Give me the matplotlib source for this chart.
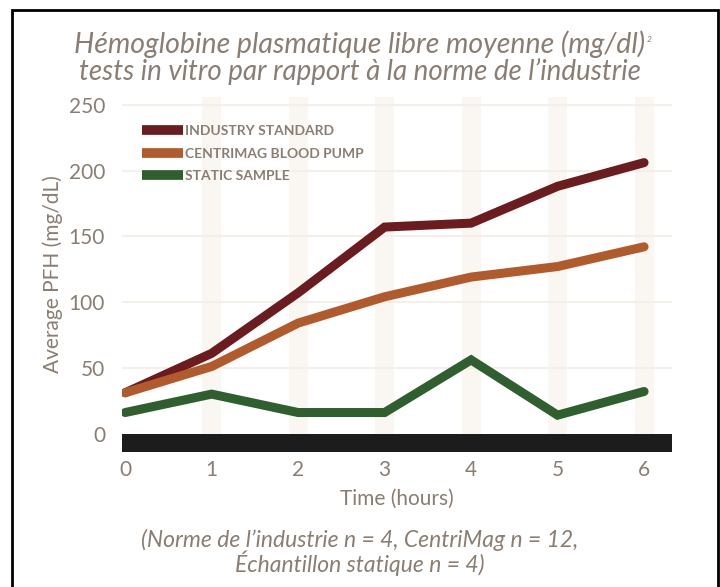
import matplotlib
matplotlib.use("Agg")
import matplotlib.pyplot as plt
from matplotlib.patches import Rectangle

# Chart data
hours = [0, 1, 2, 3, 4, 5, 6]
industry_standard = [31, 61, 107, 157, 160, 188, 206]
centrimag_pump = [31, 51, 84, 104, 119, 127, 142]
static_sample = [16, 30, 16, 16, 56, 14, 32]
series_labels = ["INDUSTRY STANDARD", "CENTRIMAG BLOOD PUMP", "STATIC SAMPLE"]
y_ticks = [0, 50, 100, 150, 200, 250]

TEXT = '#8a7e72'
colors = ['#6b1c1f', '#b15b2d', '#2f5f2f']

plt.rcParams['font.family'] = ['Lato', 'DejaVu Sans']

fig = plt.figure(figsize=(7.2, 5.87), dpi=100)
ax = fig.add_axes([0.169, 0.230, 0.764, 0.605])

# faint vertical bands and horizontal gridlines
for h in hours[1:]:
    ax.axvspan(h - 0.11, h + 0.11, color='#faf7f3', zorder=0, lw=0)
for t in y_ticks[1:]:
    ax.axhline(t, color='#f4efe9', lw=1.5, zorder=0.5)

# black base bar
ax.axhspan(-14, 0, color='#1c1c1c', zorder=1, lw=0)

for vals, c, lab in zip([industry_standard, centrimag_pump, static_sample], colors, series_labels):
    ax.plot(hours, vals, color=c, lw=6.5, solid_capstyle='round', solid_joinstyle='miter',
            label=lab, zorder=3)

ax.set_xlim(-0.04, 6.32)
ax.set_ylim(-14, 256)
ax.set_xticks(hours)
ax.set_yticks(y_ticks)
ax.tick_params(length=0, colors=TEXT, labelsize=15)
ax.tick_params(axis='x', pad=6)
ax.tick_params(axis='y', pad=12)
for s in ax.spines.values():
    s.set_visible(False)

ax.set_ylabel('Average PFH (mg/dL)', color=TEXT, fontsize=15, labelpad=4)
ax.set_xlabel('Time (hours)', color=TEXT, fontsize=15, labelpad=6)

leg = ax.legend(loc='upper left', bbox_to_anchor=(0.015, 0.955), frameon=False,
                handlelength=2.9, handletextpad=0.15, labelspacing=0.75,
                prop={'size': 10, 'weight': 'bold'})
for line in leg.get_lines():
    line.set_linewidth(7)
    line.set_solid_capstyle('butt')
for txt in leg.get_texts():
    txt.set_color(TEXT)

title1 = fig.text(0.5, 0.925, "Hémoglobine plasmatique libre moyenne (mg/dl)",
                  ha='center', va='center', fontsize=20.5, style='italic', color=TEXT)
fig.text(0.5, 0.878, "tests in vitro par rapport à la norme de l’industrie",
         ha='center', va='center', fontsize=20, style='italic', color=TEXT)

# tiny superscript right after the first title line
fig.canvas.draw()
bb = title1.get_window_extent().transformed(fig.transFigure.inverted())
fig.text(bb.x1 + 0.002, bb.y1 - 0.01, "2", ha='left', va='top',
         fontsize=6, style='italic', color=TEXT)

fig.text(0.5, 0.080, "(Norme de l’industrie n = 4, CentriMag n = 12,",
         ha='center', va='center', fontsize=16.5, style='italic', color=TEXT)
fig.text(0.5, 0.040, "Échantillon statique n = 4)",
         ha='center', va='center', fontsize=16.5, style='italic', color=TEXT)

# outer frame
fig.patches.append(Rectangle((0.0167, -0.1), 0.98, 1.083, transform=fig.transFigure,
                             fill=False, edgecolor='black', lw=2))

fig.savefig('out.png', dpi=100)
